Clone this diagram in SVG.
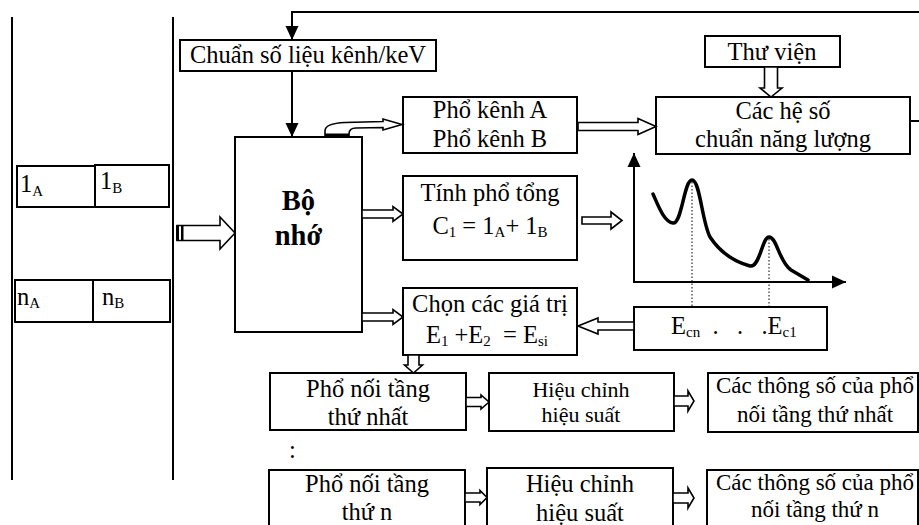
<svg xmlns="http://www.w3.org/2000/svg" width="919" height="525" viewBox="0 0 919 525">
  <style>
    .box { fill: #fff; stroke: #000; stroke-width: 2; }
    .line { fill: none; stroke: #000; stroke-width: 2; }
    .hollow { fill: #fff; stroke: #000; stroke-width: 1.6; stroke-linejoin: miter; }
    .dot { fill: none; stroke: #000; stroke-width: 1; stroke-dasharray: 1.5 2; }
    .curve { fill: none; stroke: #000; stroke-width: 3.5; stroke-linecap: round; stroke-linejoin: round; }
    text { font-family: "Liberation Serif", "Times New Roman", serif; font-size: 24.5px; fill: #000; }
    .c { text-anchor: middle; }
    .b { font-weight: bold; font-size: 28.5px; }
    .s { font-size: 15px; }
    .m { font-size: 22px; }
    .p { font-size: 23px; }
    .pre { white-space: pre; }
  </style>
  <defs>
    <marker id="head" viewBox="0 0 14 14" markerWidth="14" markerHeight="14" refX="14" refY="7" orient="auto" markerUnits="userSpaceOnUse">
      <path d="M0,0.5 L14,7 L0,13.5 z" fill="#000"/>
    </marker>
  </defs>
  <rect width="919" height="525" fill="#fff"/>

  <!-- storage frame on the left -->
  <g id="frame">
    <line class="line" x1="12" y1="17" x2="12" y2="480"/>
    <line class="line" x1="173" y1="17" x2="173" y2="480"/>
  </g>

  <g id="cell-1a">
    <rect class="box" x="17" y="166" width="78" height="41" stroke="#555"/>
    <text x="20" y="192">1<tspan class="s" dy="4">A</tspan></text>
  </g>
  <g id="cell-1b">
    <rect class="box" x="95" y="165" width="74" height="42"/>
    <text x="100" y="189">1<tspan class="s" dy="4">B</tspan></text>
  </g>
  <g id="cell-na">
    <rect class="box" x="15" y="280" width="78" height="42"/>
    <text x="17" y="305">n<tspan class="s" dy="3">A</tspan></text>
  </g>
  <g id="cell-nb">
    <rect class="box" x="93" y="280" width="77" height="42"/>
    <text x="102" y="305">n<tspan class="s" dy="3">B</tspan></text>
  </g>

  <g id="calib">
    <rect class="box" x="180" y="40" width="256" height="31"/>
    <text class="c" x="308" y="63">Chuẩn số liệu kênh/keV</text>
  </g>

  <g id="memory">
    <rect class="box" x="235" y="137" width="127" height="195"/>
    <text class="c b" x="298.5" y="210">Bộ</text>
    <text class="c b" x="298.5" y="245">nhớ</text>
  </g>

  <g id="channels">
    <rect class="box" x="403" y="97" width="174" height="56"/>
    <text class="c" x="490" y="118">Phổ kênh A</text>
    <text class="c" x="490" y="147">Phổ kênh B</text>
  </g>

  <g id="library">
    <rect class="box" x="705" y="36" width="135" height="31"/>
    <text class="c" x="772" y="60">Thư viện</text>
  </g>

  <g id="coeffs">
    <rect class="box" x="656" y="97" width="254" height="57"/>
    <text class="c" x="783" y="119">Các hệ số</text>
    <text class="c" x="783" y="147">chuẩn năng lượng</text>
  </g>

  <g id="sum">
    <rect class="box" x="403" y="176" width="174" height="84"/>
    <text class="c" x="490" y="201">Tính phổ tổng</text>
    <text class="c" x="490" y="234">C<tspan class="s" dy="3">1</tspan><tspan dy="-3"> = 1</tspan><tspan class="s" dy="3">A</tspan><tspan dy="-3">+ 1</tspan><tspan class="s" dy="3">B</tspan></text>
  </g>

  <g id="select">
    <rect class="box" x="403" y="288" width="174" height="67"/>
    <text class="c" x="490" y="312">Chọn các giá trị</text>
    <text class="c pre" x="487" y="343">E<tspan class="s" dy="3">1</tspan><tspan dy="-3"> +E</tspan><tspan class="s" dy="3">2</tspan><tspan dy="-3">  = E</tspan><tspan class="s" dy="3">si</tspan></text>
  </g>

  <!-- spectrum sketch -->
  <g id="spectrum">
    <path class="curve" d="M653,194 C658,205 664,222 673,223 C682,224 684,180 692,180 C700,180 702,222 710,237 C720,252 735,262 750,266 C760,268 762,237 769,237 C777,237 779,262 791,270 L808,280"/>
    <line class="dot" x1="692" y1="182" x2="692" y2="307"/>
    <line class="dot" x1="769" y1="239" x2="769" y2="307"/>
  </g>

  <g id="peaks">
    <rect class="box" x="634" y="307" width="193" height="43"/>
    <text class="pre" x="671" y="334">E<tspan class="s" dy="3">cn</tspan><tspan dy="-3">  .   .   .E</tspan><tspan class="s" dy="3">c1</tspan></text>
  </g>

  <g id="cascade-1">
    <rect class="box" x="270" y="373" width="196" height="57"/>
    <text class="c" x="368" y="397">Phổ nối tầng</text>
    <text class="c" x="368" y="425">thứ nhất</text>
  </g>
  <g id="efficiency-1">
    <rect class="box" x="489" y="373" width="185" height="58"/>
    <text class="c m" x="581" y="397">Hiệu chỉnh</text>
    <text class="c m" x="581" y="422">hiệu suất</text>
  </g>
  <g id="params-1">
    <rect class="box" x="708" y="373" width="210" height="59"/>
    <text class="c p" x="815" y="393">Các thông số của phổ</text>
    <text class="c p" x="815" y="422">nối tầng thứ nhất</text>
  </g>

  <g id="ellipsis">
    <text x="289" y="458">:</text>
  </g>

  <g id="cascade-n">
    <rect class="box" x="269" y="470" width="196" height="56"/>
    <text class="c" x="367" y="492">Phổ nối tầng</text>
    <text class="c" x="367" y="520">thứ n</text>
  </g>
  <g id="efficiency-n">
    <rect class="box" x="487" y="468" width="186" height="58"/>
    <text class="c" x="580" y="492">Hiệu chỉnh</text>
    <text class="c" x="580" y="521">hiệu suất</text>
  </g>
  <g id="params-n">
    <rect class="box" x="707" y="470" width="211" height="56"/>
    <text class="c p" x="815" y="490">Các thông số của phổ</text>
    <text class="c p" x="815" y="517">nối tầng thứ n</text>
  </g>

  <g id="connectors">
    <!-- feedback loop from the coefficients back to calibration -->
    <polyline class="line" points="919,12 292,12 292,40" marker-end="url(#head)"/>
    <line class="line" x1="910" y1="121" x2="919" y2="121"/>
    <line class="line" x1="292" y1="71" x2="292" y2="137" marker-end="url(#head)"/>

    <!-- spectrum axes -->
    <line class="line" x1="634" y1="282" x2="634" y2="153" marker-end="url(#head)"/>
    <line class="line" x1="633" y1="282" x2="846" y2="282" marker-end="url(#head)"/>

    <!-- input into memory -->
    <polygon class="hollow" points="177,225.5 220,225.5 220,217 235,233 220,249 220,240.5 177,240.5"/>
    <rect x="176" y="225.5" width="3" height="15" fill="#000"/>
    <rect x="181" y="225.5" width="2.5" height="15" fill="#000"/>

    <!-- memory to channel spectra -->
    <path class="hollow" d="M325,137 L325,131 C325,126 332,123 345,122.5 L383,121.5 L383,119 L402,124.5 L383,130 L383,127.5 L356,128 C351,128 349,130 349,134 L349,137"/>
    <rect x="325" y="133.5" width="24" height="3.5" fill="#000"/>

    <polygon class="hollow" points="362,210 393,210 393,206.5 403,214 393,221.5 393,218 362,218"/>
    <polygon class="hollow" points="362,313 393,313 393,309.5 403,317 393,324.5 393,321 362,321"/>
    <polygon class="hollow" points="582,217 611,217 611,212 622,220.5 611,229 611,224 582,224"/>
    <polygon class="hollow" points="634,322 598,322 598,318 578,326 598,334 598,330 634,330"/>
    <polygon class="hollow" points="578,122.5 638,122.5 638,118.5 656,126.5 638,134.5 638,130.5 578,130.5"/>
    <polygon class="hollow" points="764.5,67 777.5,67 777.5,88 782,88 771,97 760,88 764.5,88"/>
    <polygon class="hollow" points="408,355 419,355 419,365 422.5,365 413.5,373 404.5,365 408,365"/>

    <polygon class="hollow" points="466,397.5 481,397.5 481,395 489,402 481,409 481,406.5 466,406.5"/>
    <polygon class="hollow" points="674,396 688,396 688,391 694,401 688,411 688,406 674,406"/>
    <polygon class="hollow" points="465,493 480,493 480,490.5 487,497.5 480,504.5 480,502 465,502"/>
    <polygon class="hollow" points="673,493 688,493 688,488 694,498 688,508 688,503 673,503"/>
  </g>
</svg>
